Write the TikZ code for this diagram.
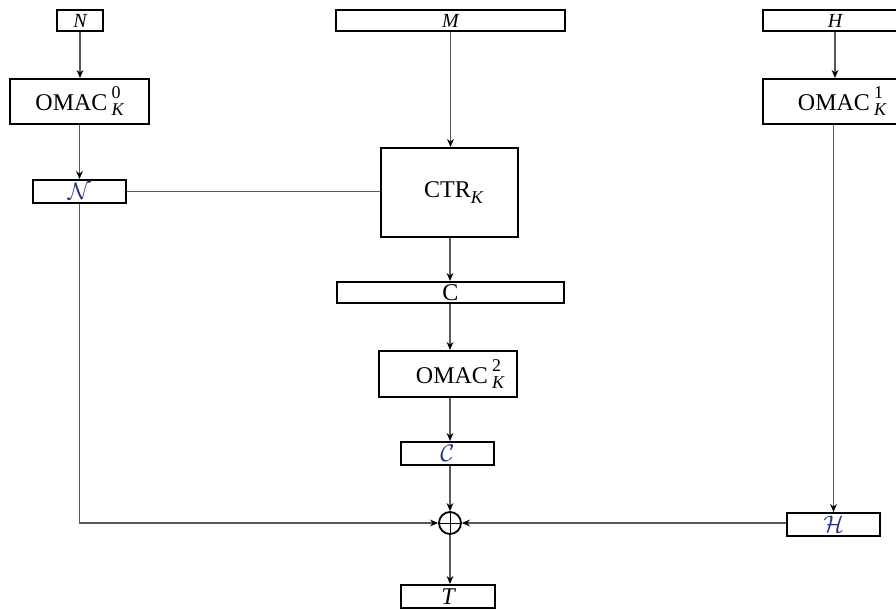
\documentclass[tikz,border=0pt]{standalone}
\usepackage{fontspec}
\setmainfont{Liberation Serif}
\usetikzlibrary{arrows.meta}
\definecolor{calblue}{RGB}{40,50,130}
\newcommand{\scr}[1]{\mbox{\fontsize{9}{9}\selectfont #1}}
\newcommand{\supsubK}[1]{\,\rlap{\raisebox{6pt}{\scr{#1}}}\raisebox{-2.5pt}{\scr{\itshape K}}}
\begin{document}
\begin{tikzpicture}[x=0.5pt,y=-0.5pt,
  box/.style={draw=black,line width=1pt,fill=white,inner sep=0pt,font=\fontsize{12}{14}\selectfont},
  lbl/.style={box,font=\fontsize{10}{12}\selectfont\itshape},
  cal/.style={box,font=\fontsize{12}{12}\selectfont,text=calblue},
  conn/.style={draw=gray!70!black,line width=0.6pt},
  arr/.style={conn,-{Stealth[length=4pt,width=3.4pt,black]}},
  xorn/.style={circle,draw=black,line width=0.9pt,minimum size=11pt,inner sep=0pt,
    path picture={\draw[line width=0.5pt] (path picture bounding box.north) -- (path picture bounding box.south)
      (path picture bounding box.west) -- (path picture bounding box.east);}}]
\useasboundingbox (0,0) rectangle (896,610);

\node[lbl,minimum width=23pt,minimum height=10.5pt] (N) at (80,20.5) {N};
\node[box,minimum width=69.5pt,minimum height=22.5pt] (OMAC0) at (79.5,101.5)
  {OMAC\supsubK{0}};
\node[cal,minimum width=46.5pt,minimum height=11.5pt] (calN) at (79.5,191.5) {$\mathcal{N}$};

\node[lbl,minimum width=114.5pt,minimum height=10.5pt] (M) at (450.5,20.5) {M};
\node[box,minimum width=68.5pt,minimum height=44.5pt] (CTR) at (449.5,192.5)
  {\hspace{4pt}CTR\raisebox{-3pt}{\scr{\itshape K}}};
\node[box,minimum width=113.5pt,minimum height=10.5pt] (C) at (450.5,292.5) {C};
\node[box,minimum width=69pt,minimum height=23pt] (OMAC2) at (448,374)
  {\hspace{12pt}OMAC\supsubK{2}};
\node[cal,minimum width=46.5pt,minimum height=11.5pt] (calC) at (447.5,453.5) {$\mathcal{C}$};
\node[xorn] (xor) at (450,523) {};
\node[lbl,font=\fontsize{12}{14}\selectfont\itshape,minimum width=47pt,minimum height=11.5pt] (T) at (448,596.5) {T};

\node[lbl,minimum width=72pt,minimum height=10.5pt] (H) at (835,20.5) {H};
\node[box,minimum width=79pt,minimum height=22.5pt] (OMAC1) at (842,101.5)
  {OMAC\supsubK{1}};
\node[cal,minimum width=46.5pt,minimum height=11.5pt] (calH) at (833.5,524.5) {$\mathcal{H}$};

\draw[arr] (N.south) -- (N.south |- OMAC0.north);
\draw[arr] (OMAC0.south) -- (calN.north);
\draw[conn] (calN.east) -- (calN.east -| CTR.west);
\draw[arr] (M.south) -- (M.south |- CTR.north);
\draw[arr] (CTR.south -| xor) -- (C.north -| xor);
\draw[arr] (C.south -| xor) -- (OMAC2.north -| xor);
\draw[arr] (OMAC2.south -| xor) -- (calC.north -| xor);
\draw[arr] (calC.south -| xor) -- (xor);
\draw[arr] (calN.south) |- (xor);
\draw[arr] (calH.west |- xor) -- (xor);
\draw[arr] (xor) -- (xor |- T.north);
\draw[arr] (H.south) -- (H.south |- OMAC1.north);
\draw[arr] (calH |- OMAC1.south) -- (calH.north);
\end{tikzpicture}
\end{document}
